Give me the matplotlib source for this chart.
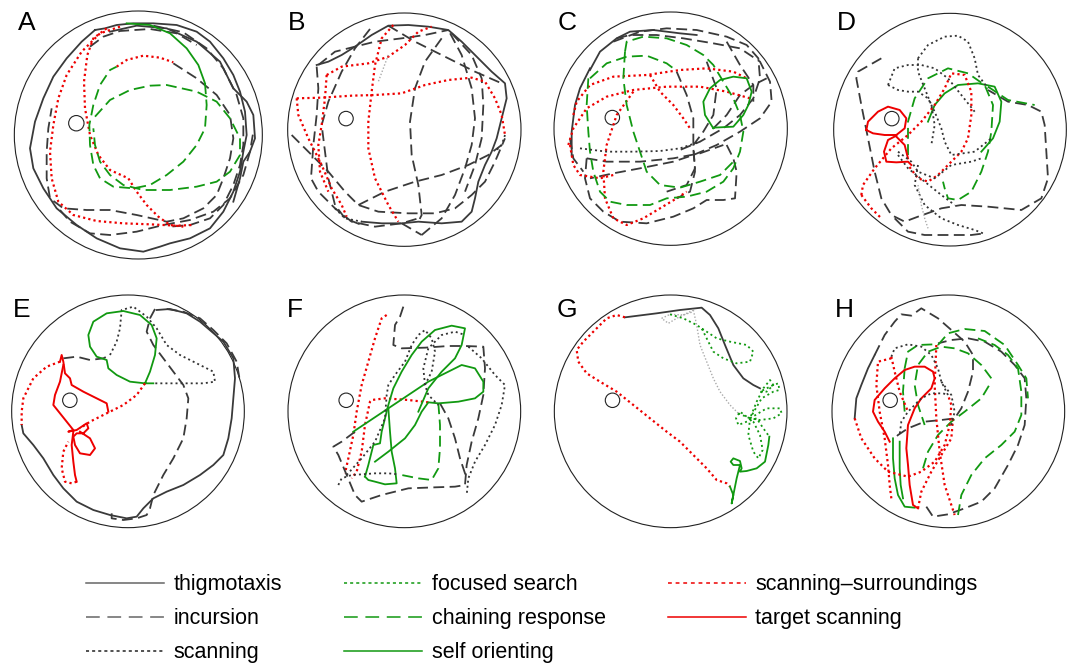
import matplotlib
matplotlib.use("Agg")
import matplotlib.pyplot as plt
from matplotlib.patches import Circle
from matplotlib.lines import Line2D

plt.rcParams['font.family'] = ['Liberation Sans', 'DejaVu Sans']

# tracked swim paths, video pixel coords of each arena crop (y grows downward)
# each panel: list of (strategy, [(x, y), ...]) segments
panel_A = [
    ("thigmotaxis", [(255, 75), (215, 110), (170, 160), (130, 215), (100, 280), (75, 350), (60, 430), (70, 490),
                     (100, 550), (140, 610), (200, 660), (260, 700), (330, 730), (400, 740), (450, 725), (480, 715),
                     (540, 700), (600, 670), (640, 620), (670, 560), (690, 500), (700, 440), (710, 390), (705, 320),
                     (690, 260), (670, 210), (640, 160), (600, 110), (560, 80), (500, 60), (430, 55), (370, 55),
                     (320, 60), (285, 70), (255, 75)]),
    ("thigmotaxis", [(300, 80), (380, 62), (470, 70), (560, 110), (630, 170), (670, 250), (710, 290), (730, 330),
                     (735, 400), (720, 440), (700, 470), (690, 520), (670, 590)]),
    ("incursion", [(430, 62), (520, 82), (590, 130), (640, 190), (680, 270), (700, 340), (700, 420), (690, 480),
                   (670, 540), (640, 600), (600, 640), (540, 660), (480, 665)]),
    ("incursion", [(490, 175), (560, 220), (620, 270), (660, 330), (670, 400), (660, 460), (640, 520), (620, 570),
                   (580, 610), (520, 640), (470, 650), (380, 630), (300, 615), (230, 615), (160, 610), (120, 580),
                   (110, 520), (110, 440), (115, 370), (125, 310)]),
    ("incursion", [(150, 615), (180, 650), (240, 685), (300, 690), (380, 680), (460, 660), (540, 645), (610, 620),
                   (660, 580), (700, 510), (720, 440), (730, 380)]),
    ("incursion", [(240, 125), (280, 95), (330, 78), (420, 72), (500, 85), (560, 120)]),
    ("scanning-surroundings", [(320, 185), (350, 165), (400, 152), (450, 158), (490, 172)]),
    ("scanning-surroundings", [(330, 65), (270, 85), (215, 140), (170, 210), (145, 280), (130, 360), (120, 440),
                               (125, 520), (145, 590), (190, 630), (260, 648), (340, 655), (420, 658), (500, 662),
                               (550, 660)]),
    ("scanning-surroundings", [(290, 70), (250, 100), (232, 150), (222, 230), (225, 310), (240, 390), (265, 450),
                               (300, 495), (355, 520), (380, 560), (410, 600), (445, 635), (480, 660), (520, 665)]),
    ("self orienting", [(350, 55), (420, 60), (480, 85), (530, 130), (565, 180), (585, 235)]),
    ("chaining response", [(585, 235), (590, 300), (585, 370), (560, 420), (520, 470), (470, 510), (420, 540),
                           (370, 550), (310, 545), (270, 520), (250, 480), (240, 420), (238, 360), (250, 300),
                           (270, 240), (300, 195), (320, 185)]),
    ("chaining response", [(255, 335), (300, 285), (360, 255), (420, 242), (470, 240), (560, 260), (620, 290),
                           (660, 340), (690, 400), (690, 450), (660, 500), (620, 530), (560, 545), (480, 555),
                           (400, 555), (340, 540), (300, 510), (270, 470), (255, 420), (250, 370)]),
]

panel_B = [
    ("thigmotaxis", [(125, 180), (160, 170), (200, 150), (240, 125), (290, 90), (340, 62), (400, 60), (460, 65),
                     (520, 75), (560, 110), (600, 150), (650, 200), (690, 235), (695, 280), (680, 340), (665, 400),
                     (650, 440), (630, 480), (610, 530), (600, 580), (590, 620), (560, 650), (500, 655), (430, 650),
                     (380, 655), (320, 655), (260, 650)]),
    ("incursion", [(125, 185), (130, 250), (125, 330), (115, 420), (108, 520), (130, 560), (180, 610), (230, 650),
                   (300, 665), (380, 655), (430, 640)]),
    ("incursion", [(130, 180), (180, 140), (240, 125), (300, 110), (380, 100), (450, 90), (520, 75)]),
    ("incursion", [(285, 72), (240, 130), (200, 200), (160, 290), (140, 360), (150, 440), (160, 520), (180, 600),
                   (210, 640), (260, 660)]),
    ("incursion", [(50, 390), (110, 450), (160, 500), (210, 560), (250, 600), (310, 620), (400, 625), (480, 625),
                   (540, 610), (590, 570), (630, 530), (660, 470), (690, 400)]),
    ("incursion", [(500, 100), (450, 170), (420, 250), (405, 350), (410, 450), (430, 540), (440, 630), (430, 650)]),
    ("incursion", [(440, 690), (500, 640), (540, 570), (570, 490), (590, 420), (600, 340), (590, 250), (560, 150),
                   (520, 75)]),
    ("incursion", [(530, 85), (590, 150), (620, 220), (625, 300), (620, 400), (600, 480), (570, 560)]),
    ("incursion", [(250, 600), (330, 560), (420, 530), (500, 510), (580, 480), (640, 450), (680, 420)]),
    ("incursion", [(340, 62), (420, 110), (500, 150), (600, 200), (680, 235)]),
    ("incursion", [(380, 655), (440, 690)]),
    ("scanning-surroundings", [(65, 280), (140, 278), (230, 272), (300, 270), (380, 265), (450, 240), (520, 225),
                               (590, 218), (630, 230), (660, 280), (680, 330), (690, 390)]),
    ("scanning-surroundings", [(65, 280), (70, 330), (100, 400), (140, 480), (170, 550), (200, 600), (215, 635)]),
    ("scanning-surroundings", [(155, 210), (200, 185), (280, 175), (340, 155), (390, 120), (430, 80), (470, 65)]),
    ("scanning-surroundings", [(355, 60), (320, 100), (300, 180), (290, 260), (280, 350), (280, 430), (300, 520),
                               (340, 600), (370, 650)]),
    ("scanning-surroundings", [(155, 210), (150, 280), (140, 360), (130, 420), (135, 500), (160, 560)]),
    ("scanning", [(180, 610), (210, 640), (260, 650)]),
    ("scanning", [(690, 390), (680, 420), (660, 440)]),
    ("other", [(340, 150), (310, 230)]),
]

panel_C = [
    ("thigmotaxis", [(150, 195), (180, 140), (230, 100), (270, 80), (340, 75), (420, 85), (470, 90)]),
    ("thigmotaxis", [(150, 190), (120, 250), (105, 300), (95, 380), (95, 450)]),
    ("incursion", [(220, 110), (300, 80), (380, 70), (470, 75), (560, 95), (620, 120), (655, 160), (660, 220),
                   (640, 280), (600, 330), (550, 370), (480, 410), (420, 435)]),
    ("incursion", [(230, 100), (270, 90), (350, 90), (430, 100), (520, 115), (600, 130), (660, 170), (690, 230),
                   (695, 290), (660, 340), (600, 380), (530, 420), (460, 450), (400, 470), (300, 490), (220, 505),
                   (150, 520)]),
    ("incursion", [(500, 170), (530, 250), (520, 330), (490, 380), (460, 420), (465, 500), (450, 560), (410, 580)]),
    ("incursion", [(410, 200), (440, 270), (460, 340), (460, 430), (465, 490), (440, 540), (380, 560)]),
    ("incursion", [(140, 460), (135, 520), (150, 580), (190, 620), (240, 650), (320, 655), (400, 635), (460, 610),
                   (500, 585), (550, 585), (585, 580), (590, 500), (580, 460), (560, 420)]),
    ("incursion", [(140, 460), (200, 470), (300, 470), (400, 460), (480, 445), (550, 420)]),
    ("incursion", [(520, 370), (560, 330), (600, 270), (640, 240), (680, 220)]),
    ("incursion", [(560, 110), (600, 180), (640, 240), (640, 290)]),
    ("incursion", [(90, 400), (100, 460), (130, 500)]),
    ("scanning-surroundings", [(100, 330), (110, 290), (150, 240), (220, 215), (320, 210), (420, 195), (500, 190),
                               (580, 200), (620, 220)]),
    ("scanning-surroundings", [(85, 420), (100, 370), (140, 310), (200, 275), (280, 255), (380, 245), (480, 245),
                               (560, 260), (630, 280)]),
    ("scanning-surroundings", [(330, 210), (360, 260), (400, 300), (430, 340), (450, 370)]),
    ("scanning-surroundings", [(280, 260), (230, 330), (200, 420), (190, 500), (195, 580), (220, 640), (260, 660),
                               (310, 640), (360, 610), (410, 580), (440, 560)]),
    ("scanning-surroundings", [(90, 420), (100, 480), (120, 510), (180, 520), (220, 510)]),
    ("chaining response", [(150, 220), (200, 175), (260, 155), (320, 152), (380, 175), (400, 190)]),
    ("chaining response", [(255, 140), (260, 110), (310, 95), (380, 100), (440, 120), (490, 150), (520, 180),
                           (550, 230), (580, 280), (600, 330), (610, 380), (600, 440), (580, 490), (550, 530),
                           (500, 560), (440, 575), (380, 580), (330, 600), (260, 600), (210, 590), (180, 560),
                           (160, 500), (150, 440), (145, 380), (140, 300), (145, 220)]),
    ("chaining response", [(255, 140), (250, 220), (260, 300), (280, 380), (300, 440), (320, 500), (360, 540),
                           (420, 548), (480, 530), (540, 510), (580, 470)]),
    ("self orienting", [(520, 370), (495, 330), (490, 290), (510, 250), (540, 225), (580, 215), (620, 220),
                        (635, 260), (625, 300), (610, 330), (580, 365), (520, 368)]),
    ("scanning", [(120, 430), (200, 440), (280, 440), (360, 438), (420, 430), (480, 410)]),
]

panel_D = [
    ("incursion", [(220, 160), (150, 200), (145, 220), (160, 300), (180, 400), (200, 500), (220, 580), (250, 630),
                   (290, 650), (330, 635), (400, 610), (460, 600), (540, 605), (640, 615), (700, 580), (720, 520),
                   (715, 440), (710, 360), (700, 320), (660, 300), (600, 290), (540, 255)]),
    ("incursion", [(260, 640), (300, 680), (350, 690), (430, 690), (490, 690), (530, 685)]),
    ("chaining response", [(300, 450), (300, 350), (320, 280), (360, 220), (420, 190), (480, 205), (530, 240),
                           (555, 300), (550, 380), (540, 440), (520, 500), (490, 560), (450, 585), (420, 580),
                           (410, 550), (405, 530)]),
    ("chaining response", [(540, 245), (600, 285), (680, 300)]),
    ("self orienting", [(360, 350), (380, 300), (410, 265), (450, 240), (510, 235), (560, 245), (580, 290),
                        (575, 350), (555, 400), (520, 440)]),
    ("target scanning", [(175, 375), (180, 350), (210, 320), (240, 305), (275, 315), (295, 340), (290, 370),
                         (265, 390), (230, 390), (195, 385), (175, 375)]),
    ("target scanning", [(265, 392), (240, 405), (228, 440), (235, 470), (265, 472), (300, 470), (310, 480)]),
    ("target scanning", [(265, 395), (290, 420), (300, 460)]),
    ("scanning-surroundings", [(160, 570), (165, 540), (200, 490), (250, 430), (300, 390), (340, 350), (380, 300),
                               (410, 250), (430, 205), (470, 210), (490, 260), (490, 330), (480, 400), (460, 440),
                               (420, 480), (390, 510), (360, 530), (330, 520), (300, 480)]),
    ("scanning-surroundings", [(160, 570), (190, 610), (220, 640)]),
    ("scanning", [(330, 160), (360, 120), (410, 95), (450, 92), (480, 110), (500, 160), (510, 210), (540, 250)]),
    ("scanning", [(240, 240), (260, 190), (300, 180), (340, 180), (380, 190), (420, 220), (460, 270), (500, 320)]),
    ("scanning", [(240, 240), (270, 255), (300, 260), (330, 260), (360, 280), (380, 320), (400, 370), (410, 410),
                  (430, 450), (500, 440), (550, 400)]),
    ("scanning", [(330, 160), (330, 200), (350, 250), (370, 300), (380, 360), (370, 420)]),
    ("scanning", [(270, 440), (310, 470), (330, 500), (380, 520), (430, 480), (490, 470), (520, 460)]),
    ("scanning", [(330, 480), (320, 540), (350, 600), (400, 640), (450, 660), (500, 675), (525, 685)]),
    ("scanning", [(270, 450), (300, 490), (350, 530), (400, 570), (440, 600)]),
    ("other", [(330, 540), (340, 600), (350, 640), (360, 670)]),
]

panel_E = [
    ("thigmotaxis", [(35, 420), (40, 445), (70, 480), (100, 520), (130, 570), (160, 610), (200, 650), (250, 675),
                     (300, 690), (350, 700), (380, 695), (400, 670), (430, 640), (470, 620), (520, 600), (570, 570),
                     (610, 540), (640, 510), (655, 460), (665, 400), (670, 340), (675, 280), (670, 220), (640, 170),
                     (605, 140), (570, 110), (530, 85), (480, 72), (440, 75)]),
    ("incursion", [(470, 72), (520, 80), (570, 100), (610, 135), (650, 175), (680, 230), (690, 290)]),
    ("incursion", [(435, 72), (420, 100), (410, 140), (430, 180), (460, 220), (490, 260), (520, 300), (535, 340),
                   (530, 400), (520, 460), (490, 520), (460, 570), (430, 630), (420, 670), (410, 690), (380, 700),
                   (340, 705), (305, 700), (305, 685)]),
    ("incursion", [(160, 220), (200, 215), (240, 225), (280, 220), (300, 210)]),
    ("scanning", [(300, 210), (320, 170), (330, 130), (335, 75), (370, 65), (410, 95), (440, 130), (470, 180),
                  (510, 210), (560, 235), (610, 260), (615, 290), (580, 295), (520, 295), (480, 295), (430, 295)]),
    ("self orienting", [(430, 295), (405, 295), (360, 290), (320, 270), (295, 250), (290, 225), (260, 215),
                        (240, 185), (235, 150), (250, 110), (290, 85), (340, 78), (390, 90), (425, 120), (440, 160),
                        (435, 210), (420, 260), (405, 295)]),
    ("scanning-surroundings", [(405, 295), (380, 330), (340, 360), (300, 380), (270, 395), (240, 410), (210, 430)]),
    ("scanning-surroundings", [(150, 230), (110, 245), (70, 280), (40, 340), (35, 380), (35, 420)]),
    ("scanning-surroundings", [(200, 590), (185, 595), (165, 590), (155, 550), (160, 500), (175, 470)]),
    ("target scanning", [(150, 230), (155, 210), (160, 230), (165, 265), (180, 280), (185, 300), (220, 320),
                         (260, 340), (290, 355), (295, 380)]),
    ("target scanning", [(160, 240), (150, 290), (135, 330), (130, 360), (150, 385), (170, 410), (190, 435),
                         (175, 440), (200, 435), (230, 415), (235, 430), (220, 445), (200, 445), (190, 455),
                         (195, 480), (210, 505), (240, 510), (255, 490), (240, 460), (210, 440)]),
    ("target scanning", [(190, 440), (185, 480), (190, 530), (195, 570), (200, 590)]),
]

panel_F = [
    ("scanning-surroundings", [(335, 90), (320, 100), (300, 160), (280, 230), (260, 300), (245, 380), (235, 450),
                               (220, 520), (210, 565)]),
    ("scanning-surroundings", [(460, 352), (400, 345), (330, 340), (290, 345), (285, 350), (270, 420), (260, 500),
                               (245, 560), (230, 580)]),
    ("incursion", [(385, 65), (375, 95), (360, 120), (355, 180), (380, 190), (450, 188), (520, 183), (570, 183),
                   (625, 185), (630, 250), (625, 330), (610, 400), (590, 470), (575, 540), (570, 600), (540, 605),
                   (480, 607), (400, 610), (320, 630), (260, 650), (240, 630), (215, 570), (190, 510), (175, 485),
                   (200, 470), (240, 440)]),
    ("incursion", [(495, 355), (520, 400), (540, 460), (555, 520), (575, 580)]),
    ("chaining response", [(490, 355), (495, 420), (495, 490), (490, 550), (470, 585), (430, 580), (380, 570)]),
    ("self orienting", [(235, 440), (280, 410), (340, 370), (400, 330), (460, 290), (520, 260), (560, 240),
                        (600, 250), (625, 290), (625, 320), (600, 340), (550, 350), (490, 355), (460, 352),
                        (440, 380), (420, 420), (390, 460), (340, 500), (300, 530)]),
    ("self orienting", [(270, 575), (280, 540), (295, 480), (315, 475), (320, 440), (330, 400), (340, 360),
                        (355, 310), (380, 260), (410, 210), (440, 170), (480, 135), (530, 122), (570, 130),
                        (560, 180), (540, 220), (500, 260), (460, 310), (430, 380)]),
    ("self orienting", [(340, 370), (345, 440), (350, 500), (360, 550), (365, 595), (330, 598), (300, 590),
                        (280, 585), (270, 575)]),
    ("scanning", [(190, 600), (200, 580), (230, 570), (260, 568), (300, 565), (340, 565), (370, 568)]),
    ("scanning", [(215, 570), (260, 520), (300, 470), (330, 400), (335, 330), (340, 300), (360, 270), (390, 230),
                  (410, 180), (430, 150), (450, 135), (470, 160), (480, 200), (470, 260), (450, 300), (460, 330),
                  (490, 360)]),
    ("scanning", [(450, 300), (445, 250), (460, 190), (500, 150), (540, 140), (570, 150)]),
    ("scanning", [(580, 185), (620, 220), (660, 270), (690, 300), (680, 360), (660, 420), (630, 480), (600, 530),
                  (580, 580), (575, 630)]),
]

panel_G = [
    ("thigmotaxis", [(255, 97), (350, 85), (420, 75), (485, 68), (510, 90), (535, 130), (555, 180), (580, 240),
                     (610, 280), (640, 300), (660, 310)]),
    ("scanning-surroundings", [(255, 97), (230, 90), (200, 100), (170, 130), (130, 170), (110, 195), (115, 230),
                               (140, 265), (180, 290), (230, 320), (280, 360), (330, 400), (380, 440), (420, 470),
                               (460, 510), (500, 550), (530, 585), (560, 595), (570, 605)]),
    ("self orienting", [(570, 605), (580, 630), (575, 655), (580, 630), (590, 580), (600, 540), (580, 540),
                        (572, 530), (580, 520), (600, 528), (605, 550), (600, 560), (620, 558), (650, 550),
                        (675, 530), (685, 480), (688, 455)]),
    ("other", [(460, 75), (440, 85), (410, 100), (385, 115), (365, 100), (390, 88), (430, 90), (460, 80)]),
    ("other", [(460, 75), (470, 120), (480, 180), (500, 230), (520, 280), (540, 320), (570, 360), (595, 385)]),
    ("focused search", [(390, 88), (430, 100), (470, 120), (500, 140), (530, 160), (570, 170), (620, 180),
                        (640, 200), (630, 230), (590, 235), (550, 220), (520, 200), (500, 160), (485, 130)]),
    ("focused search", [(595, 385), (630, 400), (650, 350), (670, 310), (690, 285), (700, 300), (680, 320),
                        (660, 320), (700, 300), (715, 295), (718, 315), (700, 320), (665, 340), (630, 400)]),
    ("focused search", [(630, 400), (680, 370), (720, 370), (725, 385), (700, 400), (660, 405), (630, 400),
                        (625, 450), (640, 500), (655, 520), (668, 495), (660, 450), (640, 410), (600, 380),
                        (588, 400), (595, 420), (620, 410), (650, 400), (670, 430), (688, 455)]),
]

panel_H = [
    ("thigmotaxis", [(140, 400), (145, 340), (160, 300), (180, 250), (200, 210)]),
    ("incursion", [(200, 210), (230, 150), (260, 110), (280, 88), (310, 92), (340, 70), (390, 100), (430, 135),
                   (470, 170), (495, 210), (495, 260), (480, 320), (460, 370), (440, 400), (400, 405), (350, 410),
                   (300, 430), (270, 450), (260, 460)]),
    ("incursion", [(355, 665), (375, 695), (420, 688), (470, 670), (520, 650), (560, 610), (600, 540), (630, 480),
                   (650, 420), (655, 340), (650, 280), (620, 240), (580, 200), (530, 170), (480, 160), (430, 165),
                   (390, 175)]),
    ("chaining response", [(450, 690), (460, 630), (490, 570), (530, 520), (580, 480), (620, 440), (640, 390),
                           (640, 320), (630, 250), (600, 210), (560, 180), (510, 160)]),
    ("chaining response", [(390, 180), (420, 145), (470, 132), (530, 138), (590, 180), (630, 240), (655, 280),
                           (660, 340)]),
    ("chaining response", [(550, 280), (520, 240), (480, 205), (440, 190), (400, 185), (360, 200), (330, 240),
                           (320, 300), (330, 360), (350, 420)]),
    ("chaining response", [(290, 250), (300, 200), (330, 180), (380, 178), (390, 180)]),
    ("chaining response", [(345, 550), (360, 500), (390, 450), (430, 410), (470, 380), (520, 340), (550, 290)]),
    ("chaining response", [(290, 250), (285, 320), (290, 380)]),
    ("self orienting", [(255, 460), (255, 520), (260, 580), (270, 630), (290, 665), (320, 668)]),
    ("self orienting", [(275, 470), (275, 550), (278, 600), (285, 640)]),
    ("target scanning", [(330, 670), (315, 660), (305, 600), (300, 540), (295, 490), (300, 420), (320, 370),
                         (340, 340), (370, 310), (380, 280), (375, 260), (350, 245), (320, 245), (290, 255),
                         (260, 280), (230, 310), (200, 345), (195, 380), (210, 410), (230, 440), (245, 470)]),
    ("scanning-surroundings", [(140, 400), (160, 460), (200, 520), (240, 560), (300, 575), (340, 560), (380, 530),
                               (410, 480), (425, 420), (430, 360), (420, 330)]),
    ("scanning-surroundings", [(385, 180), (380, 300), (385, 400), (395, 500), (410, 600), (440, 690)]),
    ("scanning-surroundings", [(250, 220), (210, 230), (205, 300), (215, 380), (230, 460), (240, 540), (245, 600),
                               (250, 640)]),
    ("scanning-surroundings", [(250, 215), (260, 260), (275, 320), (300, 380)]),
    ("scanning-surroundings", [(330, 670), (340, 620), (370, 560), (400, 510), (430, 460), (435, 400)]),
    ("scanning", [(250, 215), (260, 190), (300, 178), (340, 185), (370, 210), (390, 250), (400, 290), (420, 330),
                  (405, 325), (370, 325), (340, 340), (300, 380), (280, 410), (275, 450)]),
    ("scanning", [(400, 290), (430, 330), (440, 380), (430, 420)]),
]

panels = ["A", "B", "C", "D", "E", "F", "G", "H"]
paths = [panel_A, panel_B, panel_C, panel_D, panel_E, panel_F, panel_G, panel_H]
# arena centre and radius in the same pixel frame
arenas = [(385, 390, 372), (388, 374, 350), (392, 371, 350), (426, 374, 349),
          (354, 379, 349), (388, 379, 349), (392, 379, 349), (421, 379, 349)]
crop_origin = [(10, 5), (275, 5), (540, 5), (808, 5), (10, 285), (275, 285), (540, 285), (808, 285)]
label_pos = [(50, 55), (65, 55), (80, 55), (115, 55), (35, 75), (60, 75), (80, 75), (110, 75)]

legend_order = ["thigmotaxis", "incursion", "scanning", "focused search", "chaining response",
                "self orienting", "scanning-surroundings", "target scanning"]

GRAY = "#3a3a3a"
GREEN = "#119911"
RED = "#ee0000"
dash = (0, (6, 3))
styles = {
    "thigmotaxis": dict(color=GRAY, ls="-", lw=1.3),
    "incursion": dict(color=GRAY, ls=dash, lw=1.3),
    "scanning": dict(color="#333333", ls=(0, (1.1, 1.7)), lw=1.3),
    "focused search": dict(color=GREEN, ls=(0, (1.1, 1.7)), lw=1.3),
    "chaining response": dict(color=GREEN, ls=dash, lw=1.3),
    "self orienting": dict(color=GREEN, ls="-", lw=1.3),
    "scanning-surroundings": dict(color=RED, ls=(0, (1, 1.4)), lw=1.6),
    "target scanning": dict(color=RED, ls="-", lw=1.4),
    "other": dict(color="#aaaaaa", ls=(0, (1, 1.4)), lw=1.0),
}
legend_styles = {
    "thigmotaxis": dict(color="#666666", ls="-"),
    "incursion": dict(color="#666666", ls=(0, (9, 5))),
    "scanning": dict(color="#222222", ls=(0, (2, 2))),
    "focused search": dict(color=GREEN, ls=(0, (2, 2))),
    "chaining response": dict(color=GREEN, ls=(0, (9, 5))),
    "self orienting": dict(color=GREEN, ls="-"),
    "scanning-surroundings": dict(color=RED, ls=(0, (2.5, 2.5))),
    "target scanning": dict(color=RED, ls="-"),
}

W, H = 1072, 663
fig = plt.figure(figsize=(W / 100, H / 100), dpi=100)
box = 255

for name, segs, (cx, cy, r), (ox, oy), (lx, ly) in zip(panels, paths, arenas, crop_origin, label_pos):
    ax = fig.add_axes([ox / W, 1 - (oy + box) / H, box / W, box / H])
    ax.set_xlim(0, 3 * box)
    ax.set_ylim(3 * box, 0)
    ax.set_aspect("equal")
    ax.axis("off")
    ax.add_patch(Circle((cx, cy), r, fill=False, lw=0.8, color="#222222", clip_on=False))
    ax.add_patch(Circle((cx - 0.5 * r, cy - 0.095 * r), 0.062 * r, fill=False, lw=0.8, color="#222222"))
    for kind, pts in segs:
        xs = [p[0] for p in pts]
        ys = [p[1] for p in pts]
        ax.plot(xs, ys, solid_joinstyle="round", dash_capstyle="butt", **styles[kind])
    ax.text(lx, ly, name, fontsize=19, ha="center", va="center")

handles = [Line2D([], [], lw=1.1, **legend_styles[k]) for k in legend_order]
labels = [k.replace("-", "\u2013") for k in legend_order]
fig.legend(handles, labels, loc="upper left", bbox_to_anchor=(67 / W, 1 - 555 / H), ncol=3,
           frameon=False, fontsize=15.5, handlelength=3.6, handletextpad=0.45, columnspacing=2.9,
           labelspacing=0.6)

fig.savefig("out.png", dpi=100)
